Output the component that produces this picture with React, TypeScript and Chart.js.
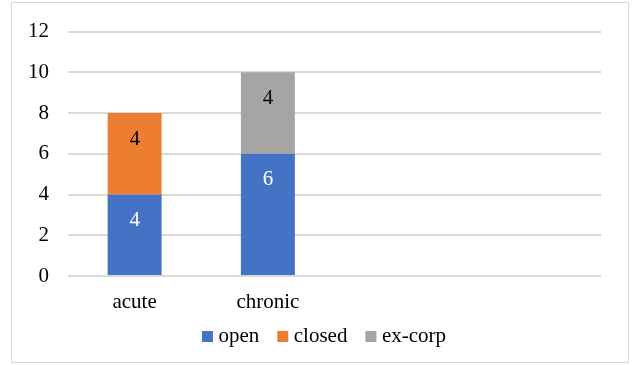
import React, { useEffect, useRef } from "react";
import { Chart, registerables } from "chart.js";

Chart.register(...registerables);

const categories = ["acute", "chronic", "", ""];
const openValues = [4, 6, null, null];
const closedValues = [4, null, null, null];
const exCorpValues = [null, 4, null, null];
const yTicks = [0, 2, 4, 6, 8, 10, 12];

const FONT = "'Liberation Serif', 'Times New Roman', serif";

const framePlugin = {
  id: "frame",
  beforeDraw(chart: any) {
    const ctx = chart.ctx;
    ctx.save();
    ctx.fillStyle = "#ffffff";
    ctx.fillRect(0, 0, chart.width, chart.height);
    ctx.strokeStyle = "#d9d9d9";
    ctx.lineWidth = 1;
    ctx.strokeRect(11.5, 2.5, 617, 360);
    ctx.restore();
  },
  afterLayout(chart: any) {
    const lg = chart.legend;
    if (lg) {
      lg.left += 26;
      lg.right += 26;
    }
    const xs = chart.scales.x;
    if (xs) xs.bottom = xs.top + 40;
  },
};

const labelPlugin = {
  id: "barLabels",
  afterDatasetsDraw(chart: any) {
    const ctx = chart.ctx;
    ctx.save();
    ctx.font = `21px ${FONT}`;
    ctx.textAlign = "center";
    ctx.textBaseline = "middle";
    chart.data.datasets.forEach((ds: any, di: number) => {
      const meta = chart.getDatasetMeta(di);
      meta.data.forEach((el: any, i: number) => {
        const v = ds.data[i];
        if (v === null || v === undefined) return;
        ctx.fillStyle = di === 0 ? "#ffffff" : "#000000";
        ctx.fillText(String(v), el.x, el.y + 26);
      });
    });
    ctx.restore();
  },
};

export default function App() {
  const ref = useRef<HTMLCanvasElement>(null);
  useEffect(() => {
    document.body.style.margin = "0";
    const chart = new Chart(ref.current!, {
      type: "bar",
      data: {
        labels: categories,
        datasets: [
          { label: "open", data: openValues, backgroundColor: "#4472C4" },
          { label: "closed", data: closedValues, backgroundColor: "#ED7D31" },
          { label: "ex-corp", data: exCorpValues, backgroundColor: "#A5A5A5" },
        ],
      },
      options: {
        animation: false,
        responsive: false,
        devicePixelRatio: 1,
        layout: { padding: { left: 0, right: 31, top: 31, bottom: 8 } },
        datasets: { bar: { categoryPercentage: 1, barPercentage: 0.405 } } as any,
        plugins: {
          tooltip: { enabled: false },
          legend: {
            position: "bottom",
            labels: {
              font: { family: FONT, size: 21 },
              color: "#000000",
              usePointStyle: true,
              pointStyle: "rect",
              boxWidth: 1,
              boxHeight: 11,
              padding: 23,
            },
          },
        },
        scales: {
          x: {
            stacked: true,
            grid: { display: false, drawTicks: false },
            border: { display: false },
            ticks: { font: { family: FONT, size: 21 }, color: "#000000", padding: 14 },
            afterFit(scale: any) {
              scale.height = 27;
            },
          },
          y: {
            stacked: true,
            min: 0,
            max: 12,
            afterBuildTicks(scale: any) {
              scale.ticks = yTicks.map((v) => ({ value: v }));
            },
            grid: { color: "#d9d9d9", drawTicks: false, lineWidth: 2 },
            border: { display: false },
            ticks: { font: { family: FONT, size: 21 }, color: "#000000", padding: 19 },
            afterFit(scale: any) {
              scale.width = 68;
            },
          },
        },
      },
      plugins: [framePlugin, labelPlugin],
    });
    return () => chart.destroy();
  }, []);
  return (
    <div style={{ width: 632, height: 365 }}>
      <canvas ref={ref} width={632} height={365} style={{ width: 632, height: 365, display: "block" }} />
    </div>
  );
}
